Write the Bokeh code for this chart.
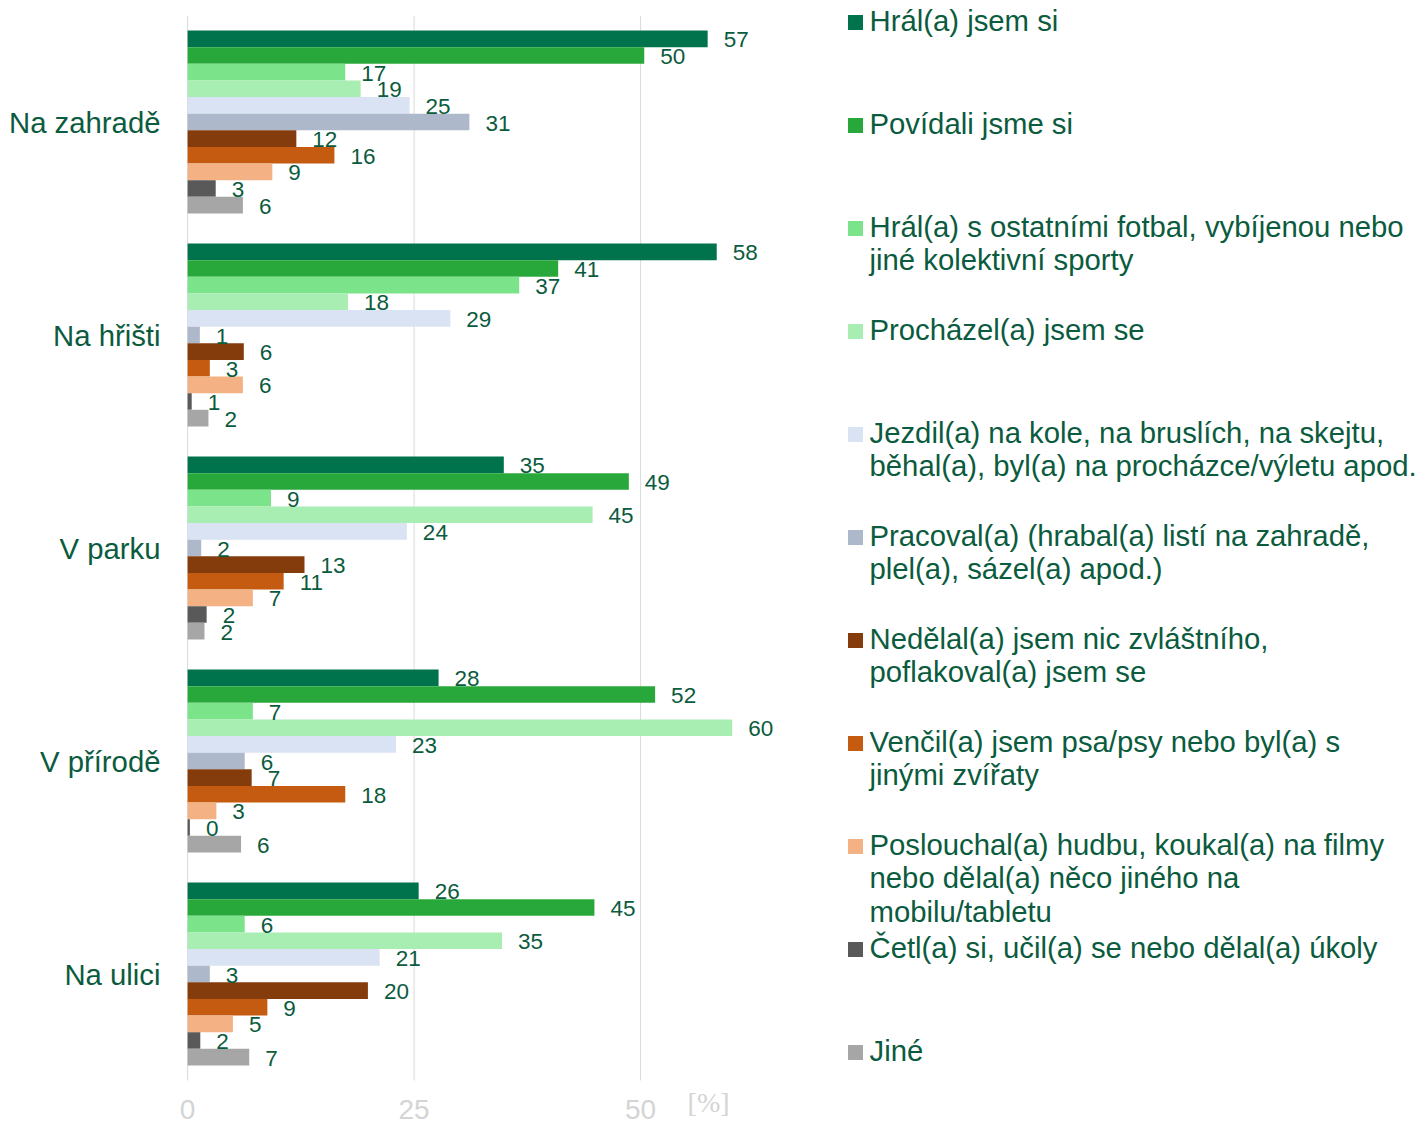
from bokeh.plotting import figure
from bokeh.models import ColumnDataSource, Range1d, FixedTicker
from bokeh.layouts import row
from bokeh.embed import file_html
from bokeh.resources import INLINE
from bokeh.core.properties import value

# ---------------- data ----------------
categories = ["Na zahradě", "Na hřišti", "V parku", "V přírodě", "Na ulici"]

series_names = [
    "Hrál(a) jsem si",
    "Povídali jsme si",
    "Hrál(a) s ostatními fotbal, vybíjenou nebo\njiné kolektivní sporty",
    "Procházel(a) jsem se",
    "Jezdil(a) na kole, na bruslích, na skejtu,\nběhal(a), byl(a) na procházce/výletu apod.",
    "Pracoval(a) (hrabal(a) listí na zahradě,\nplel(a), sázel(a) apod.)",
    "Nedělal(a) jsem nic zvláštního,\npoflakoval(a) jsem se",
    "Venčil(a) jsem psa/psy nebo byl(a) s\njinými zvířaty",
    "Poslouchal(a) hudbu, koukal(a) na filmy\nnebo dělal(a) něco jiného na\nmobilu/tabletu",
    "Četl(a) si, učil(a) se nebo dělal(a) úkoly",
    "Jiné",
]

# bar lengths [%] per category (Na zahradě, Na hřišti, V parku, V přírodě, Na ulici)
hral_jsem_si = [57.4, 58.4, 34.9, 27.7, 25.5]
povidali = [50.4, 40.9, 48.7, 51.6, 44.9]
kolektivni_sporty = [17.4, 36.6, 9.2, 7.2, 6.3]
prochazel = [19.1, 17.7, 44.7, 60.1, 34.7]
jezdil = [24.5, 29.0, 24.2, 23.0, 21.2]
pracoval = [31.1, 1.35, 1.5, 6.3, 2.45]
nedelal = [12.0, 6.2, 12.9, 7.07, 19.9]
vencil = [16.2, 2.45, 10.6, 17.4, 8.8]
poslouchal = [9.35, 6.1, 7.2, 3.17, 5.0]
cetl = [3.1, 0.45, 2.1, 0.25, 1.4]
jine = [6.1, 2.3, 1.86, 5.9, 6.8]

# printed data labels
hral_jsem_si_lbl = [57, 58, 35, 28, 26]
povidali_lbl = [50, 41, 49, 52, 45]
kolektivni_sporty_lbl = [17, 37, 9, 7, 6]
prochazel_lbl = [19, 18, 45, 60, 35]
jezdil_lbl = [25, 29, 24, 23, 21]
pracoval_lbl = [31, 1, 2, 6, 3]
nedelal_lbl = [12, 6, 13, 7, 20]
vencil_lbl = [16, 3, 11, 18, 9]
poslouchal_lbl = [9, 6, 7, 3, 5]
cetl_lbl = [3, 1, 2, 0, 2]
jine_lbl = [6, 2, 2, 6, 7]

x_ticks = [0, 25, 50]
unit_label = "[%]"
unit_label_x = 57.5

colors = ["#00734c", "#28a83a", "#7be38a", "#a8edb1", "#dae3f3", "#adb9ca",
          "#843c0c", "#c55a11", "#f4b183", "#595959", "#a6a6a6"]

all_values = [hral_jsem_si, povidali, kolektivni_sporty, prochazel, jezdil, pracoval,
              nedelal, vencil, poslouchal, cetl, jine]
all_labels = [hral_jsem_si_lbl, povidali_lbl, kolektivni_sporty_lbl, prochazel_lbl, jezdil_lbl,
              pracoval_lbl, nedelal_lbl, vencil_lbl, poslouchal_lbl, cetl_lbl, jine_lbl]

TXT = "#0b5b3e"
GRID = "#d9d9d9"
TICK_TXT = "#d4d4d4"
FONT = "Liberation Sans"

# ---------------- layout constants ----------------
W1, H, WTOT = 830, 1126, 1417
TOP = 15
BAND_PX = 213.0
X_PX = 9.06          # pixels per percent
ZERO_PX = 187        # position of the value 0
CAT_LABEL_RIGHT = 160
X_START = -2.0
LEFT = int(round(ZERO_PX + X_START * X_PX))
X_END = X_START + (W1 - LEFT) / X_PX

n_cat = len(categories)
y_start = n_cat - (H - TOP) / BAND_PX
cat_y = [n_cat - k - 0.5 for k in range(n_cat)]

# ---------------- chart ----------------
p = figure(
    x_range=Range1d(X_START, X_END), y_range=Range1d(y_start, n_cat),
    width=W1, height=H,
    output_backend="svg", toolbar_location=None,
    min_border_left=LEFT, min_border_right=0, min_border_top=TOP, min_border_bottom=0,
)
p.frame_align = False
p.outline_line_color = None
p.background_fill_color = "white"
p.border_fill_color = "white"
p.xaxis.visible = False
p.xgrid.grid_line_color = None
p.ygrid.grid_line_color = None

# vertical gridlines across the category area only
p.segment(x0=x_ticks, y0=[0] * len(x_ticks), x1=x_ticks, y1=[n_cat] * len(x_ticks),
          line_color=GRID, line_width=1, level="underlay")

n = len(all_values)
group = 0.858
slot = group / n
offsets = [(n - 1) / 2 * slot - i * slot for i in range(n)]

sources = []
for i in range(n):
    ys = [c + offsets[i] for c in cat_y]
    sources.append(ColumnDataSource(dict(y=ys, v=all_values[i],
                                         l=[str(x) for x in all_labels[i]])))

for i in range(n):
    p.hbar(y="y", left=0, right="v", height=slot, fill_color=colors[i],
           line_color=None, source=sources[i])

for i in range(n):
    p.text(x="v", y="y", text="l", x_offset=16, y_offset=1, text_align="left",
           text_baseline="middle", text_font=value(FONT), text_font_size="22.5px",
           text_color=TXT, source=sources[i])

# category axis
p.yaxis.ticker = FixedTicker(ticks=cat_y)
p.yaxis.major_label_overrides = {c: lab for c, lab in zip(cat_y, categories)}
p.yaxis.axis_line_color = None
p.yaxis.major_tick_line_color = None
p.yaxis.minor_tick_line_color = None
p.yaxis.major_tick_out = 0
p.yaxis.major_tick_in = 0
p.yaxis.major_label_standoff = LEFT - CAT_LABEL_RIGHT
p.yaxis.major_label_text_font = FONT
p.yaxis.major_label_text_font_size = "29.3px"
p.yaxis.major_label_text_color = TXT

# value-axis tick labels and unit
p.text(x=x_ticks, y=[0] * len(x_ticks), text=[str(t) for t in x_ticks], y_offset=29,
       text_align="center", text_baseline="middle", text_font=value(FONT),
       text_font_size="28px", text_color=TICK_TXT)
p.text(x=[unit_label_x], y=[0], text=[unit_label], y_offset=22, text_align="center",
       text_baseline="middle", text_font=value("Liberation Serif"),
       text_font_size="28px", text_color=TICK_TXT)

# ---------------- legend ----------------
W2 = WTOT - W1
q = figure(x_range=Range1d(W1, WTOT), y_range=Range1d(H, 0),
           width=W2, height=H, output_backend="svg", toolbar_location=None,
           x_axis_location=None, y_axis_location=None,
           min_border_left=0, min_border_right=0, min_border_top=0, min_border_bottom=0)
q.frame_align = False
q.grid.visible = False
q.outline_line_color = None
q.border_fill_color = "white"
q.background_fill_color = "white"

item_step = 103.0
first_y = 22.0
line_h = 33.3
sq_x = 855.0
txt_x = 869.0

sq_ys = [first_y + i * item_step for i in range(n)]
q.rect(x=[sq_x] * n, y=sq_ys, width=15, height=15, fill_color=colors, line_color=None)

lx, ly, lt = [], [], []
for i, name in enumerate(series_names):
    for j, line in enumerate(name.split("\n")):
        lx.append(txt_x)
        ly.append(sq_ys[i] - 2 + j * line_h)
        lt.append(line)
q.text(x=lx, y=ly, text=lt, text_align="left", text_baseline="middle",
       text_font=value(FONT), text_font_size="29.3px", text_color=TXT)

layout = row(p, q)
open("out.html", "w").write(file_html(layout, INLINE))
